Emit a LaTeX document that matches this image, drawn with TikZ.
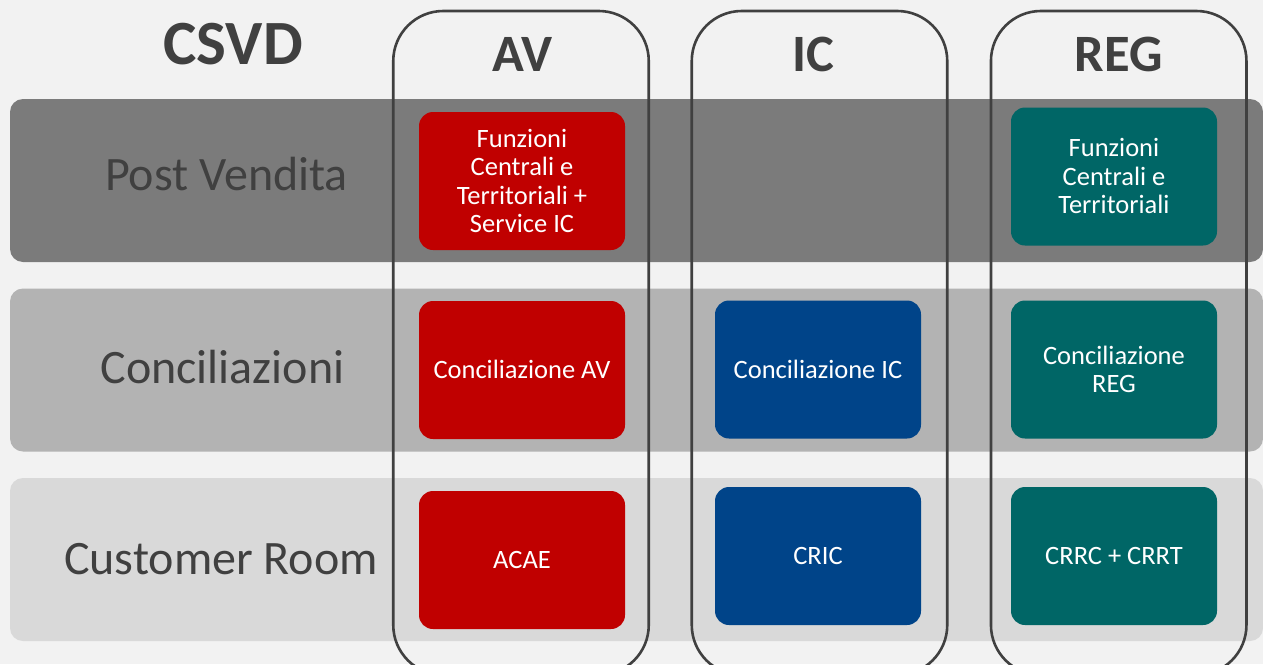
\documentclass[tikz,border=0pt]{standalone}
\usepackage{fontspec}
\setmainfont{Carlito}
\definecolor{bgc}{HTML}{F2F2F2}
\definecolor{ink}{HTML}{404040}
\definecolor{bandA}{HTML}{7B7B7B}
\definecolor{bandB}{HTML}{B3B3B3}
\definecolor{bandC}{HTML}{D9D9D9}
\definecolor{avc}{HTML}{C00000}
\definecolor{icc}{HTML}{004489}
\definecolor{regc}{HTML}{006666}
\tikzset{
  x=1pt,y=-1pt,
  band/.style={rounded corners=13pt,inner sep=0pt,outer sep=0pt,minimum width=1253pt,minimum height=163pt},
  colbox/.style={draw=ink,line width=2.6pt,rounded corners=50pt,inner sep=0pt,outer sep=0pt,minimum width=255.5pt,minimum height=664pt},
  unit/.style={rounded corners=14pt,inner sep=0pt,outer sep=0pt,minimum width=206pt,minimum height=138pt,text=white,align=center,font=\fontsize{26.5}{28.5}\selectfont},
  bandlabel/.style={text=ink,inner sep=0pt,font=\fontsize{48}{57}\selectfont},
  headlabel/.style={text=ink,inner sep=0pt,font=\bfseries\fontsize{52.5}{62}\selectfont},
}
\begin{document}
\begin{tikzpicture}
\useasboundingbox (0,0) rectangle (1263,664);
\clip (0,0) rectangle (1263,664);
\fill[bgc] (0,0) rectangle (1263,664);
\node[band,fill=bandA] (b1) at (636.5,180.5) {};
\node[band,fill=bandB] (b2) at (636.5,370) {};
\node[band,fill=bandC] (b3) at (636.5,559.5) {};
\node[unit,fill=avc] (av1) at (522,181) {\raisebox{0.7pt}{Funzioni}\\\raisebox{0.7pt}{Centrali e}\\\raisebox{0.7pt}{Territoriali +}\\\raisebox{0.7pt}{Service IC}};
\node[unit,fill=avc] (av2) at (522,370) {\raisebox{0.7pt}{Conciliazione AV}};
\node[unit,fill=avc] (av3) at (522,560) {\raisebox{0.7pt}{ACAE}};
\node[unit,fill=icc] (ic2) at (818,369.5) {\raisebox{0.7pt}{Conciliazione IC}};
\node[unit,fill=icc] (ic3) at (818,556) {\raisebox{0.7pt}{CRIC}};
\node[unit,fill=regc] (reg1) at (1114,176.5) {\raisebox{0.7pt}{Funzioni}\\\raisebox{0.7pt}{Centrali e}\\\raisebox{0.7pt}{Territoriali}};
\node[unit,fill=regc] (reg2) at (1114,369.5) {\raisebox{0.7pt}{Conciliazione}\\\raisebox{0.7pt}{REG}};
\node[unit,fill=regc] (reg3) at (1114,556) {\raisebox{0.7pt}{CRRC + CRRT}};
\node[colbox] (cav) at (521,343) {};
\node[colbox] (cic) at (819.5,343) {};
\node[colbox] (creg) at (1118.7,343) {};
\node[text=ink,inner sep=0pt,font=\bfseries\fontsize{63}{75}\selectfont] (csvd) at (233,44) {CSVD};
\node[headlabel] (hav) at (522.5,54) {AV};
\node[headlabel] (hic) at (813,54) {IC};
\node[headlabel] (hreg) at (1118.5,54) {REG};
\node[bandlabel] (l1) at (226.5,174) {Post Vendita};
\node[bandlabel] (l2) at (222.5,367.5) {Conciliazioni};
\node[bandlabel] (l3) at (221,559.5) {Customer Room};
\end{tikzpicture}
\end{document}
